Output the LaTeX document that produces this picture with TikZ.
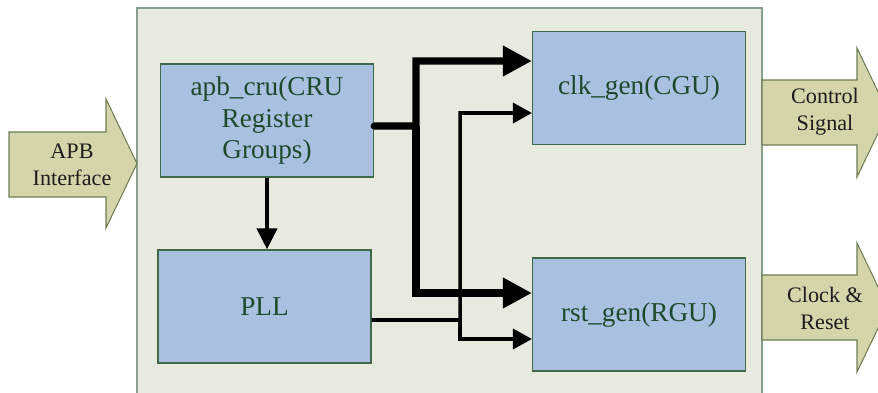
\documentclass[tikz,border=0pt]{standalone}
\usepackage{fontspec}
\setmainfont{Liberation Serif}
\usetikzlibrary{arrows.meta,calc,positioning}

\definecolor{framefill}{HTML}{E9EADF}
\definecolor{frameline}{HTML}{87A08E}
\definecolor{blockfill}{HTML}{AAC0E1}
\definecolor{blockline}{HTML}{3F6A4A}
\definecolor{portfill}{HTML}{D5D5AB}
\definecolor{portline}{HTML}{6F7E55}
\definecolor{txt}{HTML}{1E4A2C}
\definecolor{porttxt}{HTML}{1C1C1C}

\tikzset{
  block/.style={draw=blockline, fill=blockfill, line width=0.7pt, text=txt,
    font=\fontsize{15.5}{18}\selectfont, align=center,
    minimum width=4.26cm, minimum height=2.26cm, inner sep=0pt},
  port/.style={draw=portline, fill=portfill, line width=0.6pt},
  portlabel/.style={text=porttxt, font=\fontsize{12.6}{15.3}\selectfont, align=center},
  busthick/.style={line width=4pt, line cap=round, -{Triangle[length=0.58cm, width=0.58cm]}},
  busthin/.style={line width=2pt, -{Triangle[length=0.38cm, width=0.4cm]}},
  ctrl/.style={line width=2.3pt, -{Triangle[length=0.42cm, width=0.4cm]}}
}

\begin{document}
\begin{tikzpicture}[x=0.02cm, y=-0.02cm]
	\useasboundingbox (0,0) rectangle (878,392);
	\clip (0,0) rectangle (878,392);
	% frame
	\draw[draw=frameline, fill=framefill, line width=1.2pt] (137,8) rectangle (762,400);
	% ports
	\draw[port] (9,132) -- (106,132) -- (106,99) -- (137,163.5) -- (106,228) -- (106,197) -- (9,197) -- cycle;
	\draw[port] (762,80) -- (857,80) -- (857,48) -- (888,112.5) -- (857,177) -- (857,145) -- (762,145) -- cycle;
	\draw[port] (762,275) -- (857,275) -- (857,243) -- (888,307.5) -- (857,372) -- (857,340) -- (762,340) -- cycle;
	\node[portlabel] (apbin) at (72,165) {APB\\Interface};
	\node[portlabel] (ctrlout) at (825,112) {Control\\Signal};
	\node[portlabel] (clkout) at (825,308) {Clock \&\\Reset};
	% blocks
	\node[block] (apb) at (267,120.5) {apb\_cru(CRU\\Register\\Groups)};
	\node[block] (pll) at (264.5,306.5) {PLL};
	\node[block] (clk) at (639,88) {clk\_gen(CGU)};
	\node[block] (rst) at (639,314.5) {rst\_gen(RGU)};
	% connections
	\coordinate (bus1) at (416,126);
	\coordinate (bus2) at (460,320);
	\draw[ctrl] (apb.south) -- (apb.south |- pll.north);
	\draw[busthick] ($(apb.east)+(0,5.5)$) -- (bus1) |- ($(clk.west)+(0,-27)$);
	\draw[busthick, line cap=butt] (bus1) |- ($(rst.west)+(0,-21.5)$);
	\draw[busthin] ($(pll.east)+(0,13.5)$) -- (bus2) |- ($(clk.west)+(0,25)$);
	\draw[busthin] (bus2) |- ($(rst.west)+(0,24.5)$);
\end{tikzpicture}
\end{document}
